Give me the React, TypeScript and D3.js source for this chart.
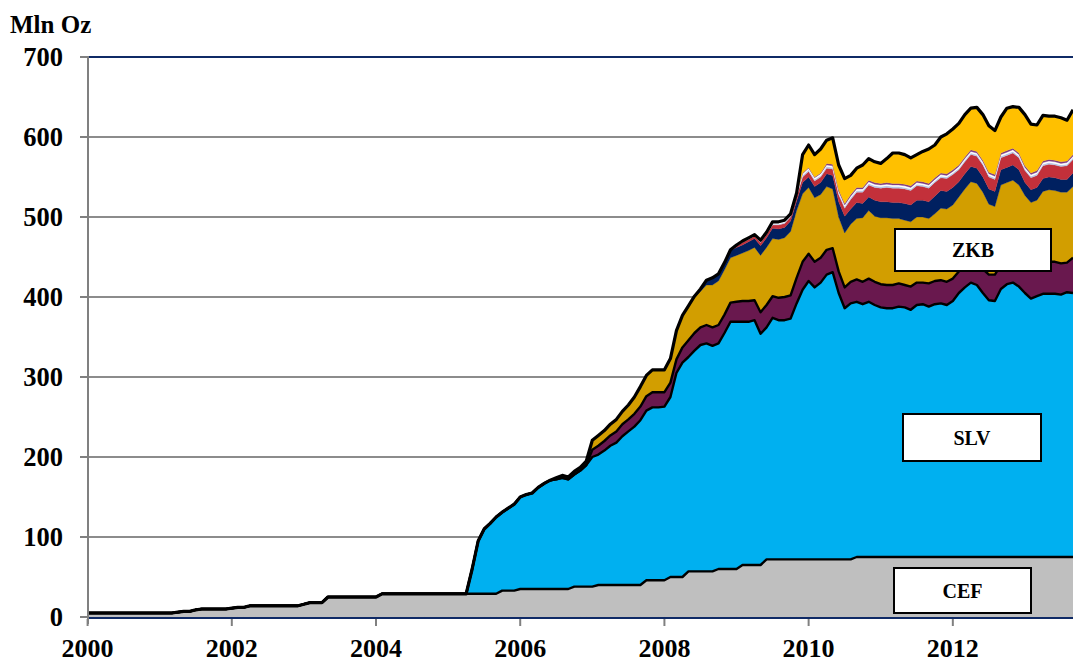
import React from "react";
import * as d3 from "d3";

// ---- data (million ounces, monthly) ----
const START_YEAR = 2000; // month index 0 = Jan 2000
const ETF_START = 60; // other series start at Jan 2005 (index 60)

// CEF, Jan 2000 .. Sep 2013
const cef = [
  5, 5, 5, 5, 5, 5, 5, 5, 5, 5, 5, 5,
  5, 5, 5, 6, 7, 7, 9, 10, 10, 10, 10, 10,
  11, 12, 12, 14, 14, 14, 14, 14, 14, 14, 14, 14,
  16, 18, 18, 18, 25, 25, 25, 25, 25, 25, 25, 25,
  25, 29, 29, 29, 29, 29, 29, 29, 29, 29, 29, 29,
  29, 29, 29, 29, 29, 29, 29, 29, 29, 33, 33, 33,
  35, 35, 35, 35, 35, 35, 35, 35, 35, 38, 38, 38,
  38, 40, 40, 40, 40, 40, 40, 40, 40, 46, 46, 46,
  46, 50, 50, 50, 57, 57, 57, 57, 57, 60, 60, 60,
  60, 65, 65, 65, 65, 72, 72, 72, 72, 72, 72, 72,
  72, 72, 72, 72, 72, 72, 72, 72, 75, 75, 75, 75,
  75, 75, 75, 75, 75, 75, 75, 75, 75, 75, 75, 75,
  75, 75, 75, 75, 75, 75, 75, 75, 75, 75, 75, 75,
  75, 75, 75, 75, 75, 75, 75, 75, 75,
];

// Jan 2005 .. Sep 2013
const slv = [
  0, 0, 0, 0, 31, 66, 81, 88, 96, 98, 103, 108,
  115, 118, 120, 127, 132, 136, 137, 139, 137, 140, 145, 152,
  162, 163, 168, 174, 178, 186, 192, 198, 206, 212, 216, 216,
  217, 225, 255, 268, 268, 276, 283, 285, 282, 282, 295, 309,
  309, 304, 304, 306, 289, 290, 302, 299, 299, 301, 320, 337,
  348, 340, 346, 356, 359, 333, 314, 320, 319, 316, 319, 315,
  312, 311, 311, 313, 312, 309, 315, 316, 313, 316, 317, 315,
  320, 330, 337, 343, 340, 330, 321, 320, 335, 341, 343, 338,
  330, 323, 326, 329, 329, 329, 328, 331, 330,
];

const etfs = [
  0, 0, 0, 0, 0, 0, 0, 0, 0, 0, 0, 0,
  0, 0, 0, 0, 0, 0, 0, 0, 0, 0, 0, 0,
  9, 11, 12, 13, 14, 15, 15, 16, 17, 18, 19, 19,
  18, 18, 17, 19, 21, 22, 22, 23, 23, 23, 23, 24,
  25, 26, 26, 25, 27, 28, 27, 28, 29, 29, 32, 35,
  34, 32, 31, 31, 30, 27, 26, 27, 28, 28, 29, 29,
  29, 29, 29, 29, 28, 29, 28, 27, 29, 29, 29, 29,
  28, 27, 27, 26, 27, 30, 32, 33, 30, 30, 30, 31,
  34, 38, 39, 40, 40, 40, 39, 37, 44,
];

const zkb = [
  0, 0, 0, 0, 0, 0, 0, 0, 0, 0, 0, 0,
  0, 0, 0, 0, 0, 0, 2, 3, 3, 4, 4, 5,
  12, 13, 13, 14, 15, 16, 18, 21, 25, 26, 28, 28,
  28, 30, 36, 40, 42, 44, 45, 50, 53, 55, 56, 56,
  58, 60, 63, 66, 71, 72, 72, 73, 74, 80, 84, 85,
  83, 80, 79, 79, 74, 68, 68, 72, 76, 80, 85, 82,
  83, 84, 83, 81, 81, 81, 82, 82, 81, 84, 90, 91,
  92, 93, 96, 100, 100, 96, 88, 85, 100, 97, 98, 96,
  88, 82, 81, 88, 90, 89, 89, 88, 89,
];

const juliusBaer = [
  0, 0, 0, 0, 0, 0, 0, 0, 0, 0, 0, 0,
  0, 0, 0, 0, 0, 0, 0, 0, 0, 0, 0, 0,
  0, 0, 0, 0, 0, 0, 0, 0, 0, 0, 0, 0,
  0, 0, 0, 0, 1, 2, 3, 6, 9, 9, 9, 9,
  10, 10, 11, 11, 12, 12, 13, 13, 13, 13, 12, 14,
  13, 14, 15, 16, 17, 19, 21, 19, 20, 18, 17, 20,
  20, 20, 20, 20, 21, 21, 21, 21, 21, 22, 22, 22,
  22, 19, 19, 19, 19, 19, 19, 19, 19, 19, 19, 19,
  16, 16, 16, 16, 16, 16, 16, 16, 17,
];

const dbPhysical = [
  0, 0, 0, 0, 0, 0, 0, 0, 0, 0, 0, 0,
  0, 0, 0, 0, 0, 0, 0, 0, 0, 0, 0, 0,
  0, 0, 0, 0, 0, 0, 0, 0, 0, 0, 0, 0,
  0, 0, 0, 0, 0, 0, 0, 0, 0, 0, 0, 1,
  2, 3, 3, 3, 4, 4, 4, 5, 5, 5, 6, 7,
  7, 7, 7, 7, 8, 9, 10, 12, 13, 14, 15, 16,
  17, 18, 18, 18, 18, 18, 18, 17, 17, 17, 16, 16,
  16, 15, 15, 15, 15, 15, 15, 15, 15, 15, 15, 15,
  15, 15, 15, 16, 16, 16, 16, 17, 17,
];

const etfsUs = [
  0, 0, 0, 0, 0, 0, 0, 0, 0, 0, 0, 0,
  0, 0, 0, 0, 0, 0, 0, 0, 0, 0, 0, 0,
  0, 0, 0, 0, 0, 0, 0, 0, 0, 0, 0, 0,
  0, 0, 0, 0, 0, 0, 0, 0, 0, 0, 0, 0,
  0, 1, 1, 1, 1, 1, 1, 1, 1, 1, 1, 2,
  2, 2, 2, 2, 2, 2, 2, 2, 2, 2, 2, 2,
  2, 2, 2, 2, 2, 2, 2, 2, 2, 2, 2, 2,
  2, 2, 2, 2, 2, 2, 2, 2, 2, 2, 2, 2,
  2, 2, 2, 2, 2, 2, 2, 2, 2,
];

const mitsubishi = [
  0, 0, 0, 0, 0, 0, 0, 0, 0, 0, 0, 0,
  0, 0, 0, 0, 0, 0, 0, 0, 0, 0, 0, 0,
  0, 0, 0, 0, 0, 0, 0, 0, 0, 0, 0, 0,
  0, 0, 0, 0, 0, 0, 0, 0, 0, 0, 0, 0,
  1, 1, 1, 1, 1, 1, 2, 2, 2, 2, 2, 2,
  2, 2, 2, 2, 2, 2, 2, 2, 2, 2, 2, 2,
  2, 2, 2, 2, 2, 2, 2, 2, 2, 2, 2, 2,
  2, 2, 2, 2, 2, 2, 2, 2, 2, 2, 2, 2,
  2, 2, 2, 2, 2, 2, 2, 2, 2,
];

const otherFunds = [
  0, 0, 0, 0, 0, 0, 0, 0, 0, 0, 0, 0,
  0, 0, 0, 0, 0, 0, 0, 0, 0, 0, 0, 0,
  0, 0, 0, 0, 0, 0, 0, 0, 0, 0, 0, 0,
  0, 0, 0, 0, 0, 0, 0, 0, 0, 0, 0, 0,
  0, 0, 0, 0, 1, 1, 1, 1, 1, 1, 1, 1,
  1, 1, 1, 2, 2, 2, 2, 2, 2, 2, 2, 2,
  2, 2, 2, 2, 2, 2, 2, 2, 2, 2, 2, 2,
  2, 2, 2, 2, 2, 2, 2, 2, 2, 2, 2, 2,
  2, 2, 2, 2, 2, 2, 2, 2, 2,
];

const sprott = [
  0, 0, 0, 0, 0, 0, 0, 0, 0, 0, 0, 0,
  0, 0, 0, 0, 0, 0, 0, 0, 0, 0, 0, 0,
  0, 0, 0, 0, 0, 0, 0, 0, 0, 0, 0, 0,
  0, 0, 0, 0, 0, 0, 0, 0, 0, 0, 0, 0,
  0, 0, 0, 0, 0, 0, 0, 0, 0, 0, 0, 23,
  28, 28, 30, 29, 33, 31, 31, 24, 24, 28, 27, 26,
  25, 30, 38, 38, 37, 35, 33, 38, 43, 41, 45, 50,
  51, 52, 53, 52, 55, 57, 58, 55, 45, 53, 52, 57,
  64, 61, 57, 57, 54, 55, 55, 51, 56,
];

const yTicks = [0, 100, 200, 300, 400, 500, 600, 700];
const xTicks = [2000, 2002, 2004, 2006, 2008, 2010, 2012];

const seriesKeys = ["CEF", "SLV", "ETFS", "ZKB", "JB", "DB", "ETFSUS", "MITS", "OTHER", "SPROTT"];
const seriesData: Record<string, number[]> = {
  SLV: slv, ETFS: etfs, ZKB: zkb, JB: juliusBaer, DB: dbPhysical,
  ETFSUS: etfsUs, MITS: mitsubishi, OTHER: otherFunds, SPROTT: sprott,
};
const seriesColors: Record<string, string> = {
  CEF: "#BFBFBF", SLV: "#00B0F0", ETFS: "#69184E", ZKB: "#D29E00", JB: "#002060",
  DB: "#C3303A", ETFSUS: "#B8C8E6", MITS: "#FFFFFF", OTHER: "#7E3B86", SPROTT: "#FFC000",
};

const W = 1073, H = 662;
const FONT = "'Liberation Serif', 'Times New Roman', serif";

export default function App() {
  const x = d3.scaleLinear().domain([START_YEAR, START_YEAR + (cef.length - 1) / 12]).range([87.6, 1073]);
  const y = d3.scaleLinear().domain([0, 700]).range([617, 57]);

  const rows = cef.map((c, i) => {
    const r: any = { t: START_YEAR + i / 12, CEF: c };
    for (const k of seriesKeys.slice(1)) {
      r[k] = i >= ETF_START ? seriesData[k][i - ETF_START] : 0;
    }
    return r;
  });
  const stacked = d3.stack<any>().keys(seriesKeys)(rows);
  const area = d3.area<any>().x((d) => x(d.data.t)).y0((d) => y(d[0])).y1((d) => y(d[1]));
  const line = d3.line<any>().x((d) => x(d.data.t)).y((d) => y(d[1]));

  const outlined = [0, 1, 2];
  const top = stacked[stacked.length - 1];

  const labels = [
    { text: "ZKB", x: 895, y: 229, w: 156, h: 42 },
    { text: "SLV", x: 903, y: 414, w: 138, h: 47 },
    { text: "CEF", x: 894, y: 568, w: 137, h: 45 },
  ];

  return (
    <svg width={W} height={H} style={{ position: "absolute", left: 0, top: 0, background: "#fff" }}>
      <defs>
        <clipPath id="plot">
          <rect x={87.6} y={40} width={W - 87.6} height={580} />
        </clipPath>
      </defs>
      {yTicks.filter((t) => t > 0 && t < 700).map((t) => (
        <line key={t} x1={88} x2={W} y1={y(t)} y2={y(t)} stroke="#8C8C8C" strokeWidth={2} />
      ))}
      <line x1={88} x2={W} y1={y(700)} y2={y(700)} stroke="#0F2A66" strokeWidth={2.2} />
      <g clipPath="url(#plot)">
        {stacked.map((s) => (
          <path key={s.key} d={area(s) || ""} fill={seriesColors[s.key]} stroke={seriesColors[s.key]} strokeWidth={0.3} />
        ))}
        {outlined.map((i) => (
          <path key={i} d={line(stacked[i]) || ""} fill="none" stroke="#000" strokeWidth={2.4} strokeLinejoin="round" />
        ))}
        <path d={line(top) || ""} fill="none" stroke="#000" strokeWidth={3.2} strokeLinejoin="round" />
      </g>
      <line x1={88} x2={W} y1={618} y2={618} stroke="#0F2A66" strokeWidth={2.2} />
      <line x1={88} x2={88} y1={56} y2={624} stroke="#808080" strokeWidth={2} />
      {yTicks.map((t) => (
        <g key={t}>
          <line x1={80} x2={88} y1={y(t)} y2={y(t)} stroke="#808080" strokeWidth={2} />
          <text x={63} y={y(t)} dy="0.35em" textAnchor="end" fontFamily={FONT} fontWeight="bold" fontSize={26.5}>
            {t}
          </text>
        </g>
      ))}
      {xTicks.map((t) => (
        <g key={t}>
          <line x1={x(t)} x2={x(t)} y1={619} y2={626} stroke="#808080" strokeWidth={2} />
          <text x={x(t)} y={657} textAnchor="middle" fontFamily={FONT} fontWeight="bold" fontSize={26}>
            {t}
          </text>
        </g>
      ))}
      <text x={10} y={33} fontFamily={FONT} fontWeight="bold" fontSize={25}>Mln Oz</text>
      {labels.map((l) => (
        <g key={l.text}>
          <rect x={l.x} y={l.y} width={l.w} height={l.h} fill="#fff" stroke="#000" strokeWidth={2} />
          <text x={l.x + l.w / 2} y={l.y + l.h / 2} dy="0.35em" textAnchor="middle" fontFamily={FONT} fontWeight="bold" fontSize={20}>
            {l.text}
          </text>
        </g>
      ))}
    </svg>
  );
}
